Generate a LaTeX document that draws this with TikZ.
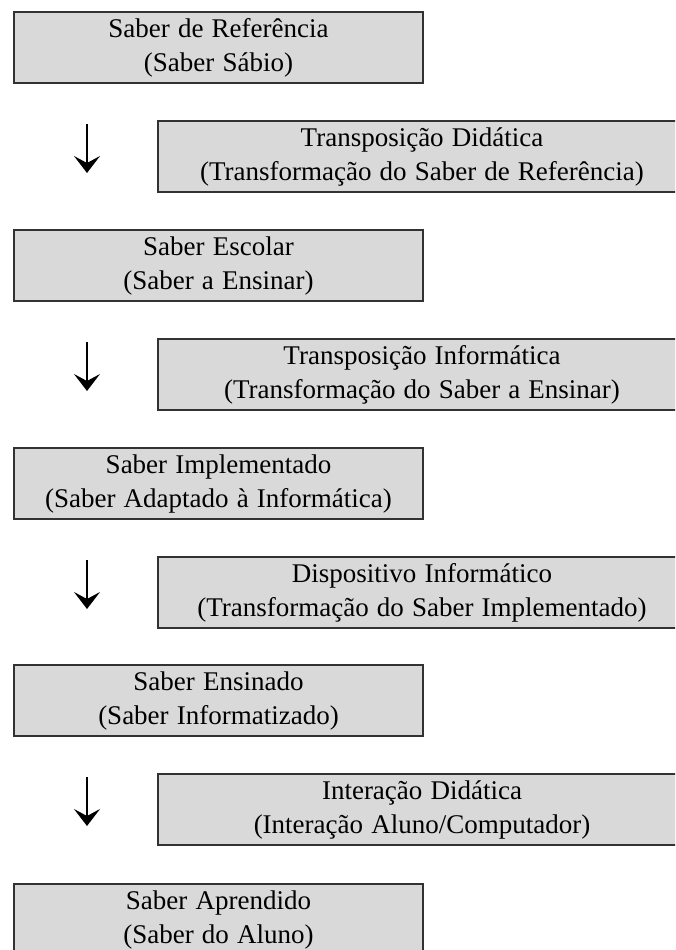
\documentclass[tikz,border=0pt]{standalone}
\usepackage{fontspec}
\setmainfont{Liberation Serif}[WordSpace=1.2]
\usepackage{tikz}
\usetikzlibrary{calc,shapes,positioning}
\usetikzlibrary{arrows.meta}
\tikzset{>={Stealth[width=26pt,length=17pt,inset=7pt]}}
\definecolor{boxgray}{RGB}{217,217,217}
\definecolor{boxline}{RGB}{50,50,50}

\begin{document}
\begin{tikzpicture}[x=1pt,y=-1pt]
    \useasboundingbox (0,0) rectangle (675,950);
    \clip (0,0) rectangle (675,950);

    \tikzstyle{lnode} = [line width=2pt, rectangle, draw=boxline, fill=boxgray, anchor=north west,
                         minimum width=409pt, minimum height=71pt, inner sep=0pt,
                         font=\fontsize{27}{34}\selectfont]
    \tikzstyle{rnode} = [lnode, minimum width=528pt]

    % knowledge boxes (left)
    \node[lnode] (s1) at (13,11) {\begin{tabular}{@{}c@{}}Saber de Referência\\(Saber Sábio)\end{tabular}};
    \node[lnode] (s2) at (13,229) {\begin{tabular}{@{}c@{}}Saber Escolar\\(Saber a Ensinar)\end{tabular}};
    \node[lnode] (s3) at (13,447) {\begin{tabular}{@{}c@{}}Saber Implementado\\(Saber Adaptado à Informática)\end{tabular}};
    \node[lnode] (s4) at (13,664) {\begin{tabular}{@{}c@{}}Saber Ensinado\\(Saber Informatizado)\end{tabular}};
    \node[lnode] (s5) at (13,883) {\begin{tabular}{@{}c@{}}Saber Aprendido\\(Saber do Aluno)\end{tabular}};

    % transformation boxes (right)
    \node[rnode] (t1) at (157,120) {\begin{tabular}{@{}c@{}}Transposição Didática\\(Transformação do Saber de Referência)\end{tabular}};
    \node[rnode] (t2) at (157,338) {\begin{tabular}{@{}c@{}}Transposição Informática\\(Transformação do Saber a Ensinar)\end{tabular}};
    \node[rnode] (t3) at (157,556) {\begin{tabular}{@{}c@{}}Dispositivo Informático\\(Transformação do Saber Implementado)\end{tabular}};
    \node[rnode] (t4) at (157,773) {\begin{tabular}{@{}c@{}}Interação Didática\\(Interação Aluno/Computador)\end{tabular}};

    % arrow ends
    \coordinate (a1) at ($(t1.north west)+(-70,4)$);
    \coordinate (b1) at ($(a1)+(0,49)$);
    \coordinate (a2) at ($(t2.north west)+(-70,4)$);
    \coordinate (b2) at ($(a2)+(0,49)$);
    \coordinate (a3) at ($(t3.north west)+(-70,4)$);
    \coordinate (b3) at ($(a3)+(0,49)$);
    \coordinate (a4) at ($(t4.north west)+(-70,4)$);
    \coordinate (b4) at ($(a4)+(0,49)$);

    \draw[->, line width=1.4pt] (a1) -- (b1);
    \draw[->, line width=1.4pt] (a2) -- (b2);
    \draw[->, line width=1.4pt] (a3) -- (b3);
    \draw[->, line width=1.4pt] (a4) -- (b4);
\end{tikzpicture}
\end{document}
